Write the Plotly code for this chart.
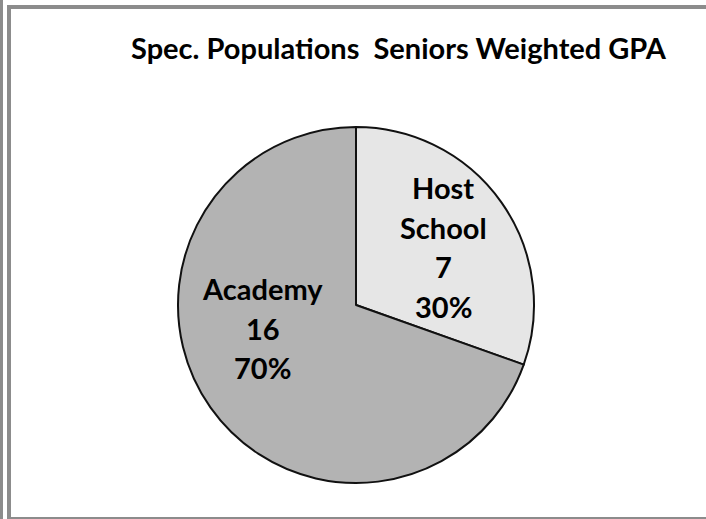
import plotly.graph_objects as go

# ---- data ----
categories = ["Host School", "Academy"]
counts = [7, 16]
slice_colors = ["#e6e6e6", "#b3b3b3"]
title_text = "Spec. Populations  Seniors Weighted GPA"

W, H = 706, 519
total = sum(counts)
pcts = [round(100 * c / total) for c in counts]

def px(x):
    return x / W

def py(y):
    return 1 - y / H

fig = go.Figure()
fig.add_trace(go.Pie(
    labels=categories,
    values=counts,
    sort=False,
    direction="clockwise",
    rotation=0,
    textinfo="none",
    hoverinfo="label+value+percent",
    marker=dict(colors=slice_colors, line=dict(color="#111111", width=2)),
    domain=dict(x=[px(178), px(534)], y=[py(483), py(127)]),
    showlegend=False,
))

font_family = "Lato, 'Open Sans', sans-serif"

# data labels (category / value / percent), one annotation per line
label_pos = {"Host School": (443.5, 247), "Academy": (262.5, 328)}
label_words = {"Host School": ["Host", "School"], "Academy": ["Academy"]}
line_gap = 39.5
annotations = []
for cat, c, p in zip(categories, counts, pcts):
    lines = label_words[cat] + [str(c), f"{p}%"]
    cx, cy = label_pos[cat]
    n = len(lines)
    for i, s in enumerate(lines):
        y = cy + (i - (n - 1) / 2) * line_gap
        annotations.append(dict(
            x=px(cx), y=py(y), xref="paper", yref="paper",
            xanchor="center", yanchor="middle", showarrow=False,
            text=f"<b>{s}</b>",
            font=dict(family=font_family, size=29, color="#000000"),
        ))

annotations.append(dict(
    x=px(398.5), y=py(47.5), xref="paper", yref="paper",
    xanchor="center", yanchor="middle", showarrow=False,
    text=f"<b>{title_text}</b>",
    font=dict(family=font_family, size=29, color="#000000"),
))

border = "#8c8c8c"
shapes = [
    dict(type="rect", xref="paper", yref="paper", x0=px(0), x1=px(3), y0=py(519), y1=py(0),
         fillcolor=border, line=dict(width=0), layer="above"),
    dict(type="rect", xref="paper", yref="paper", x0=px(7), x1=px(11), y0=py(519), y1=py(5),
         fillcolor=border, line=dict(width=0), layer="above"),
    dict(type="rect", xref="paper", yref="paper", x0=px(7), x1=px(706), y0=py(9), y1=py(5),
         fillcolor=border, line=dict(width=0), layer="above"),
    dict(type="rect", xref="paper", yref="paper", x0=px(7), x1=px(706), y0=py(519), y1=py(517),
         fillcolor=border, line=dict(width=0), layer="above"),
]

fig.update_layout(
    width=W, height=H,
    margin=dict(l=0, r=0, t=0, b=0),
    paper_bgcolor="white",
    plot_bgcolor="white",
    annotations=annotations,
    shapes=shapes,
)

fig.write_html("out.html")
